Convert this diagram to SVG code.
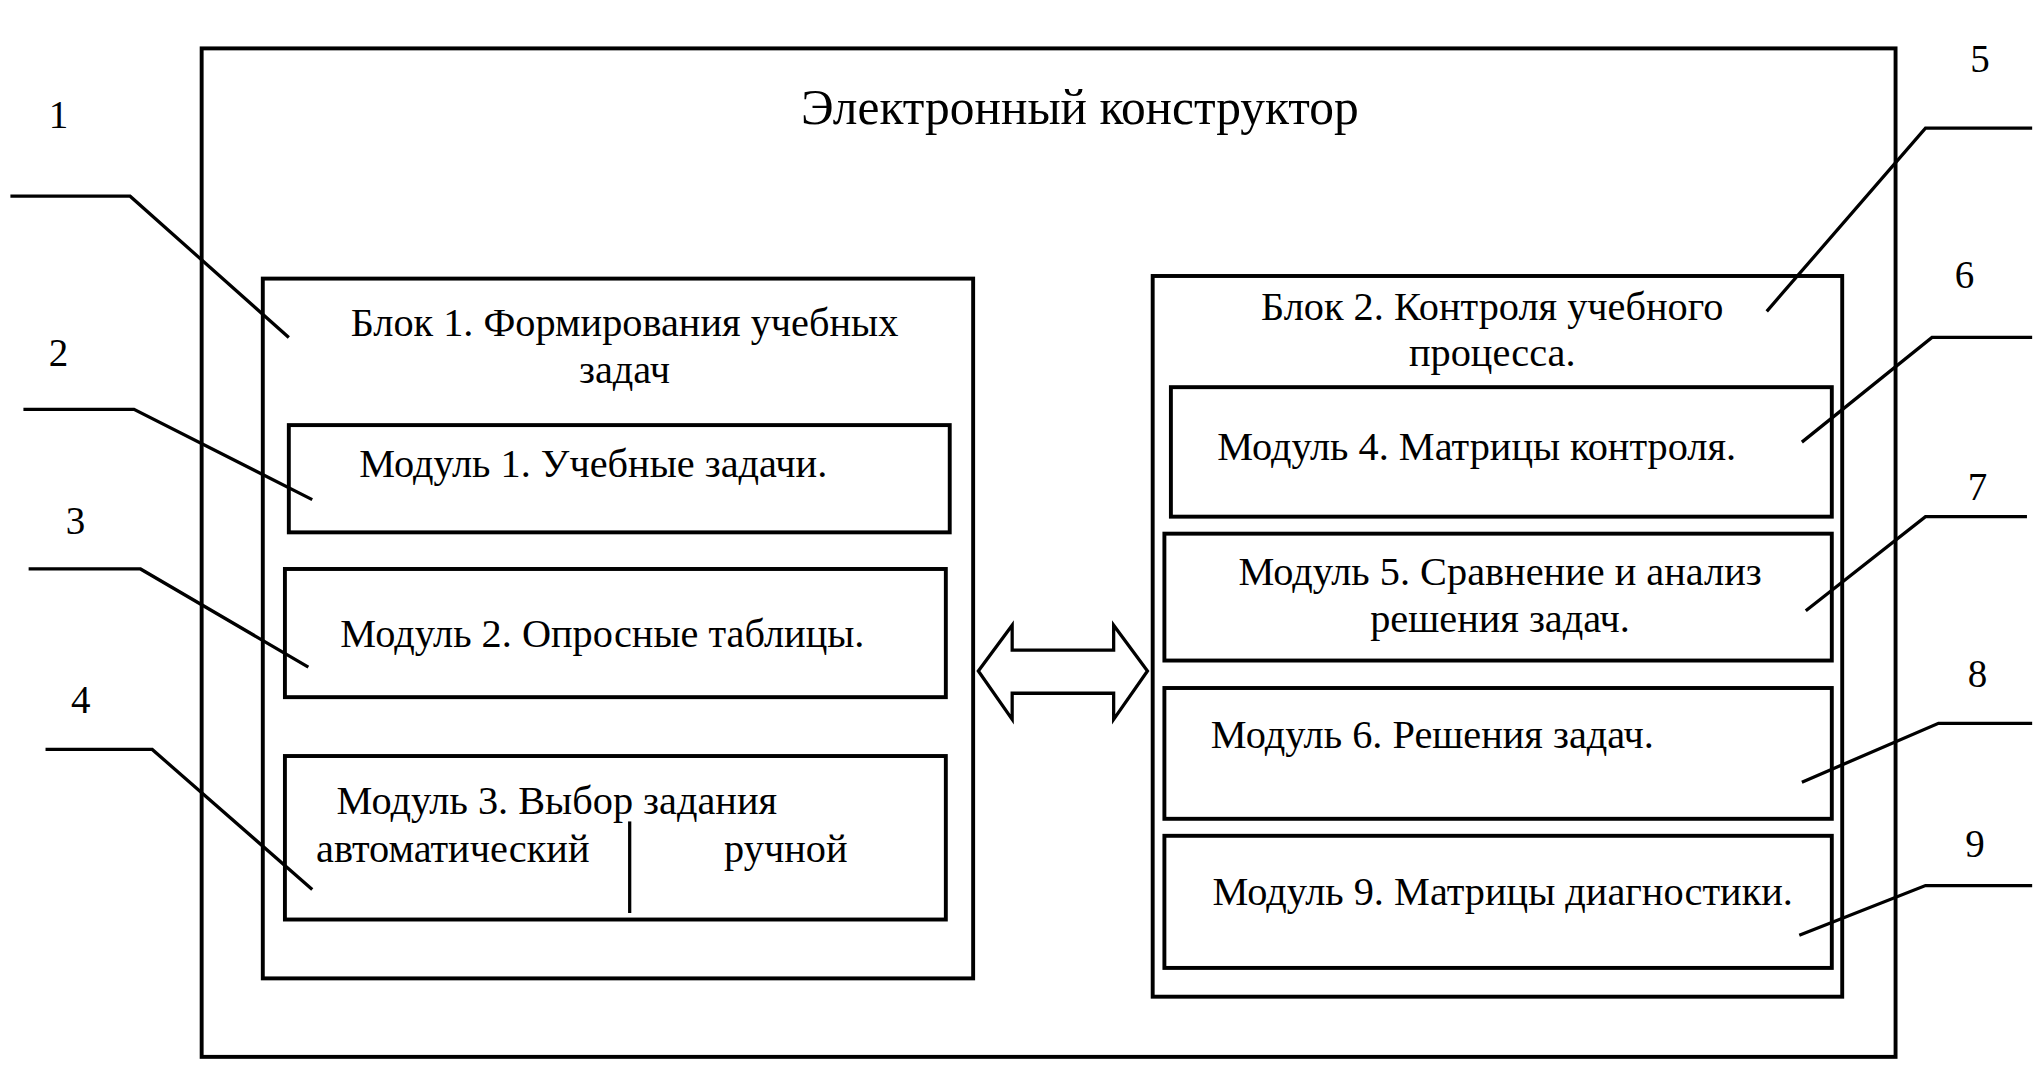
<svg xmlns="http://www.w3.org/2000/svg" width="2040" height="1086" viewBox="0 0 2040 1086">
<style>
.b{fill:none;stroke:#000;stroke-width:3}
.l{fill:none;stroke:#000;stroke-width:2.5}
text{font-family:"Liberation Serif",serif;font-size:31px;fill:#000;text-anchor:middle}
.n{font-size:30px}
.t{font-size:38px}
</style>
<rect width="2040" height="1086" fill="#fff"/>
<g transform="scale(1.301,1.308)">
<g id="outer"><rect class="b" x="155" y="37" width="1302" height="771"/><text class="t" x="830" y="95">Электронный конструктор</text></g>
<g id="block1"><rect class="b" x="202" y="213" width="546" height="535"/><text x="480" y="257">Блок 1. Формирования учебных</text><text x="480" y="293">задач</text></g>
<g id="module1"><rect class="b" x="222" y="325" width="508" height="82"/><text x="456" y="365">Модуль 1. Учебные задачи.</text></g>
<g id="module2"><rect class="b" x="219" y="435" width="508" height="98"/><text x="463" y="495">Модуль 2. Опросные таблицы.</text></g>
<g id="module3"><rect class="b" x="219" y="578" width="508" height="125"/><text x="428" y="622">Модуль 3. Выбор задания</text><text x="348" y="659">автоматический</text><text x="604" y="659">ручной</text><line class="l" x1="484" y1="628" x2="484" y2="698"/></g>
<g id="block2"><rect class="b" x="886" y="211" width="530" height="551"/><text x="1147" y="245">Блок 2. Контроля учебного</text><text x="1147" y="280">процесса.</text></g>
<g id="module4"><rect class="b" x="900" y="296" width="508" height="99"/><text x="1135" y="352">Модуль 4. Матрицы контроля.</text></g>
<g id="module5"><rect class="b" x="895" y="408" width="513" height="97"/><text x="1153" y="447">Модуль 5. Сравнение и анализ</text><text x="1153" y="483">решения задач.</text></g>
<g id="module6"><rect class="b" x="895" y="526" width="513" height="100"/><text x="1101" y="572">Модуль 6. Решения задач.</text></g>
<g id="module9"><rect class="b" x="895" y="639" width="513" height="101"/><text x="1155" y="692">Модуль 9. Матрицы диагностики.</text></g>
<g id="connectors">
<path class="l" d="M752 513 L778 478 L778 497 L856 497 L856 478 L882 513 L856 550 L856 530 L778 530 L778 550 Z"/>
<path class="l" d="M8 150 H100 L222 258"/>
<path class="l" d="M18 313 H103 L240 382"/>
<path class="l" d="M22 435 H108 L237 510"/>
<path class="l" d="M35 573 H117 L240 680"/>
<path class="l" d="M1562 98 H1480 L1358 238"/>
<path class="l" d="M1562 258 H1485 L1385 338"/>
<path class="l" d="M1558 395 H1480 L1388 467"/>
<path class="l" d="M1562 553 H1490 L1385 598"/>
<path class="l" d="M1562 677 H1480 L1383 715"/>
</g>
<g id="labels">
<text class="n" x="45" y="98">1</text><text class="n" x="45" y="280">2</text><text class="n" x="58" y="408">3</text><text class="n" x="62" y="545">4</text>
<text class="n" x="1522" y="55">5</text><text class="n" x="1510" y="220">6</text><text class="n" x="1520" y="382">7</text><text class="n" x="1520" y="525">8</text><text class="n" x="1518" y="655">9</text>
</g>
</g>
</svg>
